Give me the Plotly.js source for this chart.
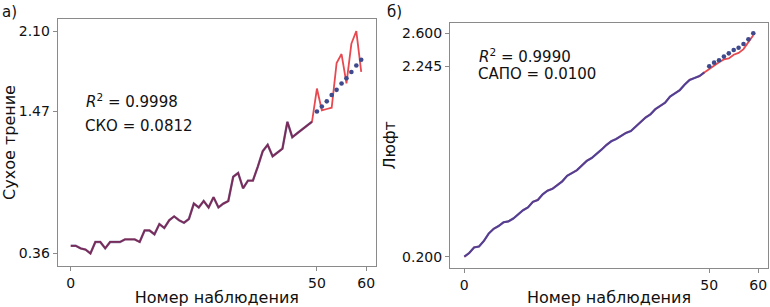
<!DOCTYPE html>
<html><head><meta charset="utf-8">
<script src="https://cdn.plot.ly/plotly-3.0.1.min.js"></script>
<style>body{margin:0;padding:0;background:#fff}#chart{width:770px;height:307px}</style>
</head><body><div id="chart"></div>
<script>
// ---- Panel a) : Сухое трение ----
const frictionActual = [0.42,0.42,0.40,0.39,0.36,0.45,0.45,0.40,0.45,0.45,
  0.45,0.47,0.47,0.47,0.45,0.54,0.54,0.51,0.59,0.56,
  0.62,0.65,0.62,0.60,0.63,0.75,0.72,0.77,0.72,0.80,
  0.72,0.75,0.77,0.96,0.99,0.87,0.93,0.93,1.04,1.16,
  1.21,1.12,1.15,1.18,1.39,1.27,1.30,1.33,1.36,1.39,
  1.65,1.48,1.49,1.50,1.85,1.92,1.69,2.00,2.10,1.78];
const frictionFit = [0.42,0.42,0.40,0.39,0.36,0.45,0.45,0.40,0.45,0.45,
  0.45,0.47,0.47,0.47,0.45,0.54,0.54,0.51,0.59,0.56,
  0.62,0.65,0.62,0.60,0.63,0.75,0.72,0.77,0.72,0.80,
  0.72,0.75,0.77,0.96,0.99,0.87,0.93,0.93,1.04,1.16,
  1.21,1.12,1.15,1.18,1.39,1.27,1.30,1.33,1.36,1.39];
const frictionForecast = [1.47,1.51,1.55,1.60,1.64,1.69,1.73,1.78,1.83,1.875];
const frictionYTicks = [0.36,1.47,2.10];
const frictionYTickText = ['0.36','1.47','2.10'];

// ---- Panel б) : Люфт ----
const backlashActual = [0.20,0.24,0.30,0.31,0.37,0.45,0.50,0.53,0.57,0.58,
  0.61,0.66,0.70,0.73,0.79,0.81,0.87,0.91,0.93,0.97,
  1.01,1.07,1.10,1.13,1.18,1.23,1.26,1.30,1.35,1.40,
  1.44,1.465,1.50,1.53,1.55,1.60,1.655,1.695,1.73,1.785,
  1.82,1.855,1.92,1.955,1.99,2.05,2.10,2.12,2.14,2.18,
  2.22,2.25,2.29,2.32,2.33,2.37,2.39,2.43,2.50,2.58];
const backlashFit = [0.20,0.24,0.30,0.31,0.37,0.45,0.50,0.53,0.57,0.58,
  0.61,0.66,0.70,0.73,0.79,0.81,0.87,0.91,0.93,0.97,
  1.01,1.07,1.10,1.13,1.18,1.23,1.26,1.30,1.35,1.40,
  1.44,1.465,1.50,1.53,1.55,1.60,1.655,1.695,1.73,1.785,
  1.82,1.855,1.92,1.955,1.99,2.05,2.10,2.12,2.14,2.18];
const backlashForecast = [2.245,2.285,2.31,2.35,2.385,2.42,2.445,2.485,2.535,2.60];
const backlashYTicks = [0.2,2.245,2.6];
const backlashYTickText = ['0.200','2.245','2.600'];

const xTicks = [0,50,60];
const xTickText = ['0','50','60'];

const idx = (n, start=0) => Array.from({length:n}, (_, i) => i + start);

const RED = '#e8484f';
const DOT = '#3f4a8c';
const FONT = 'DejaVu Sans';
const W = 770, H = 307;
const px = v => v / W, py = v => 1 - v / H;

const traces = [
  {x: idx(frictionActual.length), y: frictionActual, mode:'lines', line:{color:RED, width:1.8}, xaxis:'x', yaxis:'y'},
  {x: idx(frictionFit.length), y: frictionFit, mode:'lines', line:{color:'rgba(30,20,100,0.55)', width:2.4}, xaxis:'x', yaxis:'y'},
  {x: idx(frictionForecast.length, frictionFit.length), y: frictionForecast, mode:'markers', marker:{color:DOT, size:4.6}, xaxis:'x', yaxis:'y'},
  {x: idx(backlashActual.length), y: backlashActual, mode:'lines', line:{color:RED, width:1.8}, xaxis:'x2', yaxis:'y2'},
  {x: idx(backlashFit.length), y: backlashFit, mode:'lines', line:{color:'rgba(50,60,160,0.82)', width:2.2}, xaxis:'x2', yaxis:'y2'},
  {x: idx(backlashForecast.length, backlashFit.length), y: backlashForecast, mode:'markers', marker:{color:DOT, size:4.6}, xaxis:'x2', yaxis:'y2'}
];

const axBase = {
  showline:true, mirror:true, linecolor:'#8a8a8a', linewidth:1,
  showgrid:false, zeroline:false, ticks:'outside', ticklen:4, tickcolor:'#8a8a8a',
  tickfont:{family:FONT, size:14, color:'#111'}, automargin:false
};

const layout = {
  width:W, height:H, margin:{l:0,r:0,t:0,b:0},
  paper_bgcolor:'#fff', plot_bgcolor:'#fff', showlegend:false,
  font:{family:FONT, color:'#111'},
  xaxis: Object.assign({}, axBase, {domain:[px(57.7), px(376)], range:[-2.65, 62.0],
    tickvals:xTicks, ticktext:xTickText, anchor:'y',
    title:{text:'Номер наблюдения', font:{family:FONT, size:16, color:'#111'}, standoff:2}}),
  yaxis: Object.assign({}, axBase, {domain:[py(266), py(19)], range:[0.262, 2.194],
    tickvals:frictionYTicks, ticktext:frictionYTickText, anchor:'x',
    title:{text:'Сухое трение', font:{family:FONT, size:16, color:'#111'}, standoff:2}}),
  xaxis2: Object.assign({}, axBase, {domain:[px(450), px(768)], range:[-2.92, 62.0],
    tickvals:xTicks, ticktext:xTickText, anchor:'y2',
    title:{text:'Номер наблюдения', font:{family:FONT, size:16, color:'#111'}, standoff:2}}),
  yaxis2: Object.assign({}, axBase, {domain:[py(268), py(22.7)], range:[0.079, 2.714],
    tickvals:backlashYTicks, ticktext:backlashYTickText, anchor:'x2',
    title:{text:'Люфт', font:{family:FONT, size:16, color:'#111'}, standoff:2}}),
  annotations: [
    {text:'а)', x:px(0), y:py(1), xref:'paper', yref:'paper', xanchor:'left', yanchor:'top', showarrow:false, font:{family:FONT, size:15}},
    {text:'б)', x:px(385), y:py(1), xref:'paper', yref:'paper', xanchor:'left', yanchor:'top', showarrow:false, font:{family:FONT, size:15}},
    {text:'<i>R</i><sup>2</sup> = 0.9998', x:px(84), y:py(101), xref:'paper', yref:'paper', xanchor:'left', yanchor:'middle', showarrow:false, font:{family:FONT, size:15}},
    {text:'СКО = 0.0812', x:px(83), y:py(126), xref:'paper', yref:'paper', xanchor:'left', yanchor:'middle', showarrow:false, font:{family:FONT, size:15}},
    {text:'<i>R</i><sup>2</sup> = 0.9990', x:px(477), y:py(56), xref:'paper', yref:'paper', xanchor:'left', yanchor:'middle', showarrow:false, font:{family:FONT, size:15}},
    {text:'САПО = 0.0100', x:px(476), y:py(74), xref:'paper', yref:'paper', xanchor:'left', yanchor:'middle', showarrow:false, font:{family:FONT, size:15}}
  ]
};

Plotly.newPlot('chart', traces, layout, {staticPlot:true, displayModeBar:false});
</script></body></html>
